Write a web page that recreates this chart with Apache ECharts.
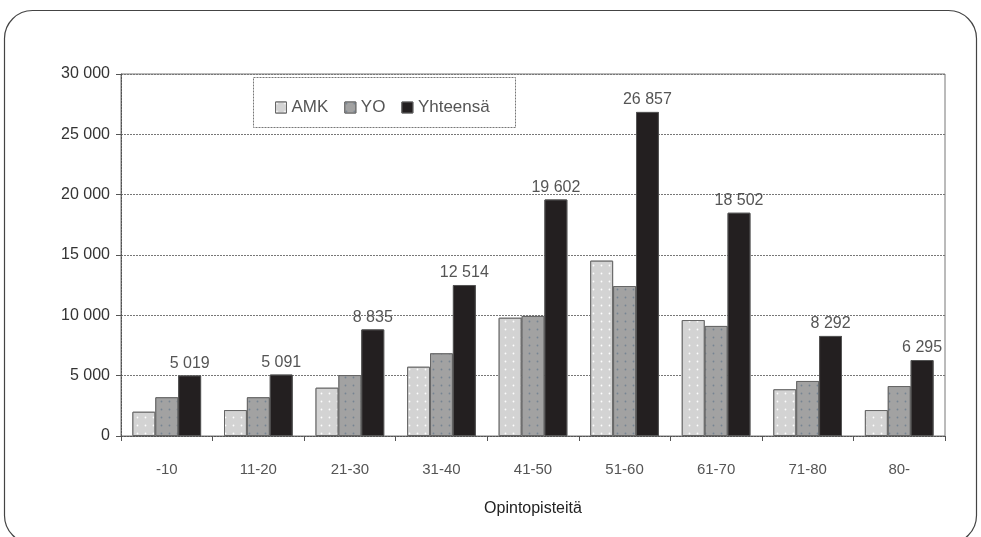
<!DOCTYPE html>
<html>
<head>
<meta charset="utf-8">
<script src="https://cdn.jsdelivr.net/npm/echarts@6/dist/echarts.min.js"></script>
<style>html,body{margin:0;padding:0;background:#fff;}#c{width:981px;height:537px;}</style>
</head>
<body>
<div id="c"></div>
<script>
const categories = ['-10','11-20','21-30','31-40','41-50','51-60','61-70','71-80','80-'];
const amk = [2010, 2150, 4000, 5740, 9800, 14530, 9610, 3870, 2150];
const yo = [3210, 3210, 5050, 6850, 9950, 12430, 9120, 4560, 4140];
const yhteensa = [5019, 5091, 8835, 12514, 19602, 26857, 18502, 8292, 6295];
const yTicks = [0, 5000, 10000, 15000, 20000, 25000, 30000];

function fmt(v){ return String(v).replace(/\B(?=(\d{3})+(?!\d))/g, ' '); }

const chart = echarts.init(document.getElementById('c'), null, {renderer:'canvas'});
const font = 'Liberation Sans, Arial, sans-serif';
chart.setOption({
  animation: false,
  backgroundColor: '#fff',
  textStyle: {fontFamily: font},
  aria: {enabled: true, decal: {show: true}},
  graphic: [
    {type:'rect', shape:{x:4.5, y:10.5, width:972, height:533, r:28}, style:{fill:'none', stroke:'#444', lineWidth:1.2}, z:-1},
    {type:'rect', shape:{x:253.5, y:77.5, width:262, height:50}, style:{fill:'#fff', stroke:'#777', lineWidth:1, lineDash:[2,1]}, z:5}
  ],
  legend: {
    left: 270, top: 94, itemWidth: 11, itemHeight: 11, itemGap: 16, z: 10,
    icon: 'rect',
    itemStyle: {borderColor:'#666', borderWidth:1},
    textStyle: {fontSize: 17, color: '#555', fontFamily: font},
    data: ['AMK','YO','Yhteensä']
  },
  grid: {left: 121, right: 36, top: 74, bottom: 101, show: true, borderColor:'#777', borderWidth:1},
  xAxis: {
    type: 'category', data: categories,
    name: 'Opintopisteitä', nameLocation: 'middle', nameGap: 65,
    nameTextStyle: {fontSize: 16, color: '#222', fontFamily: font},
    axisLine: {lineStyle: {color: '#555', type: [2,1]}},
    axisTick: {show: true, length: 5, lineStyle: {color:'#555'}},
    axisLabel: {fontSize: 15, color: '#555', margin: 26, fontFamily: font}
  },
  yAxis: {
    type: 'value', min: yTicks[0], max: yTicks[yTicks.length-1], interval: 5000,
    axisLine: {show: true, lineStyle: {color: '#555', type:[2,1]}},
    axisTick: {show: true, length: 5, lineStyle:{color:'#555'}},
    axisLabel: {fontSize: 16, color: '#333', margin: 11, fontFamily: font, formatter: v => fmt(v)},
    splitLine: {lineStyle: {color: '#777', type: [2,1]}}
  },
  series: [
    {name:'AMK', type:'bar', data: amk, barGap: '0%', barCategoryGap: '25%',
      itemStyle:{color:'#d3d3d3', borderColor:'#666', borderWidth:1,
        decal:{symbol:'circle', symbolSize:0.6, color:'rgba(255,255,255,0.95)', backgroundColor:'#d3d3d3', dashArrayX:[3,5], dashArrayY:[3,5], rotation:0}}},
    {name:'YO', type:'bar', data: yo,
      itemStyle:{color:'#a2a2a2', borderColor:'#666', borderWidth:1,
        decal:{symbol:'circle', symbolSize:0.6, color:'rgba(100,120,140,0.7)', backgroundColor:'#a2a2a2', dashArrayX:[3,5], dashArrayY:[3,5], rotation:0}}},
    {name:'Yhteensä', type:'bar', data: yhteensa,
      itemStyle:{color:'#231f20', borderColor:'#555', borderWidth:1,
        decal:{symbol:'none', color:'#231f20', backgroundColor:'#231f20'}},
      label:{show:true, position:'top', distance:4, fontSize:16, color:'#555', fontFamily:font, formatter: p => fmt(p.value)}}
  ]
});
</script>
</body>
</html>
